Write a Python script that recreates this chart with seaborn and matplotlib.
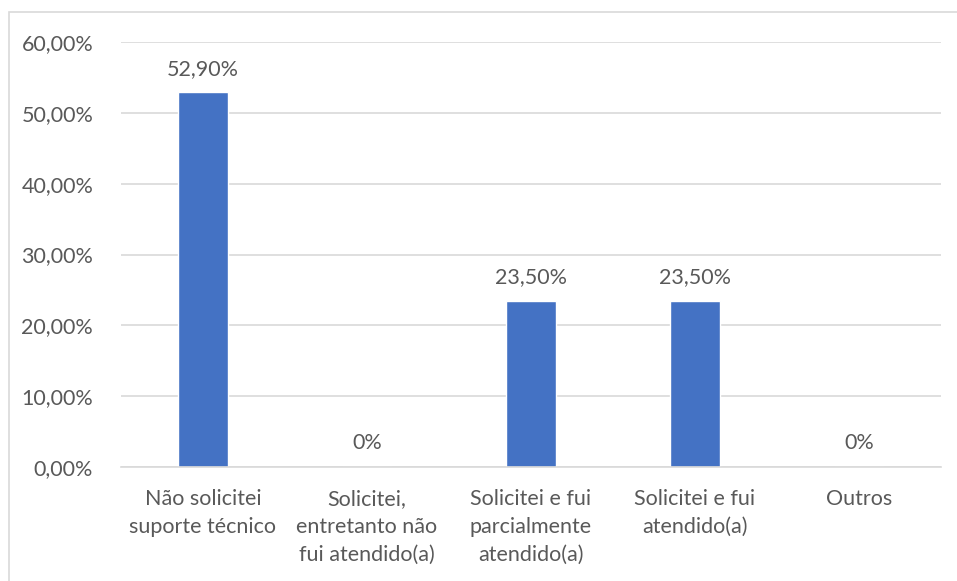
import matplotlib
matplotlib.use("Agg")
import matplotlib.pyplot as plt
import seaborn as sns
import pandas as pd
from matplotlib.patches import Rectangle

categorias = [
    "Não solicitei\nsuporte técnico",
    "Solicitei,\nentretanto não\nfui atendido(a)",
    "Solicitei e fui\nparcialmente\natendido(a)",
    "Solicitei e fui\natendido(a)",
    "Outros",
]
valores = [52.9, 0.0, 23.5, 23.5, 0.0]
rotulos = ["52,90%", "0%", "23,50%", "23,50%", "0%"]
yticks = [0, 10, 20, 30, 40, 50, 60]
ytick_labels = ["0,00%", "10,00%", "20,00%", "30,00%", "40,00%", "50,00%", "60,00%"]

sns.set_style("white")
plt.rcParams['font.family'] = ['Lato', 'DejaVu Sans']

cor_texto = "#595959"
cor_grade = "#D9D9D9"
tam = 15.5

df = pd.DataFrame({"categoria": categorias, "valor": valores})

fig = plt.figure(figsize=(9.57, 5.81), dpi=100)
ax = fig.add_axes([0.1264, 0.1962, 0.8569, 0.7315])

sns.barplot(data=df, x="categoria", y="valor", color="#4472C4", width=0.305,
            saturation=1, ax=ax)

ax.set_ylim(0, 60)
ax.set_yticks(yticks)
ax.set_yticklabels(ytick_labels)
ax.set_xlim(-0.5, len(categorias) - 0.5)
ax.grid(axis="y", color=cor_grade, linewidth=1.2)
ax.set_axisbelow(True)
for lado in ["top", "right", "left"]:
    ax.spines[lado].set_visible(False)
ax.spines["bottom"].set_color(cor_grade)
ax.spines["bottom"].set_linewidth(1.2)
ax.set_xlabel("")
ax.set_ylabel("")
ax.tick_params(axis="both", length=0, colors=cor_texto, labelsize=tam)
ax.tick_params(axis="y", pad=20)
ax.tick_params(axis="x", pad=16)
for t in ax.get_xticklabels():
    t.set_linespacing(1.48)

for i, (v, r) in enumerate(zip(valores, rotulos)):
    ax.annotate(r, (i, v), xytext=(0, 17), textcoords="offset points",
                ha="center", va="center", fontsize=tam, color=cor_texto)

fig.patches.append(Rectangle((9 / 957, -0.1), 1.1, 1 - 12 / 581 + 0.1,
                             transform=fig.transFigure, fill=False,
                             edgecolor=cor_grade, linewidth=1.2))

fig.savefig("out.png", dpi=100)
